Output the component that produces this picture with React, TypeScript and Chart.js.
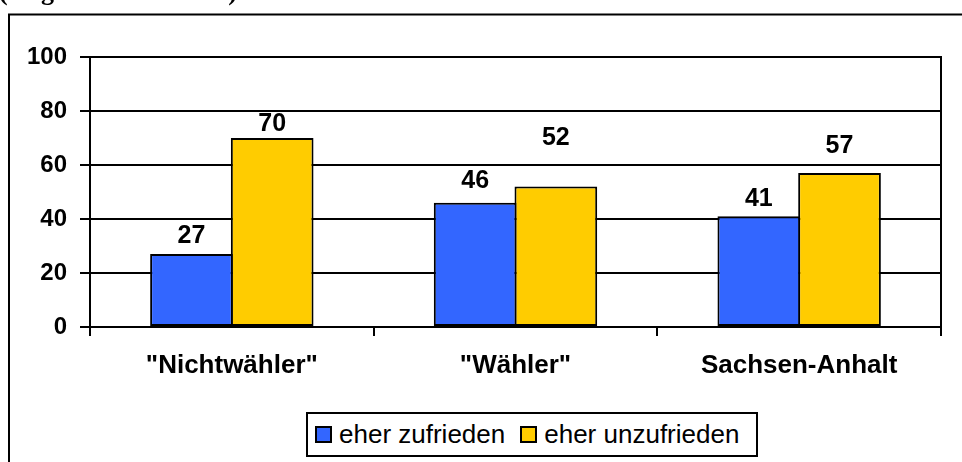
import React, { useEffect, useRef } from "react";
import { Chart, registerables } from "chart.js";

Chart.register(...registerables);

const categories = ['"Nichtwähler"', '"Wähler"', "Sachsen-Anhalt"];
const seriesNames = ["eher zufrieden", "eher unzufrieden"];
const zufrieden = [27, 46, 41];
const unzufrieden = [70, 52, 57];
const yTicks = [0, 20, 40, 60, 80, 100];
const titleText = "(Angaben in Prozent)";

const colors = ["#3366FF", "#FFCC00"];
// vertical distance (px) of each value label above its bar, per series
const labelOffsets = [
  [18, 22, 17],
  [14, 48, 27],
];

const SANS = '"Liberation Sans", Arial, sans-serif';

const framePlugin = {
  id: "frame",
  beforeDraw(chart: any) {
    const ctx = chart.ctx;
    ctx.save();
    ctx.strokeStyle = "#000";
    ctx.lineWidth = 2;
    ctx.strokeRect(9, 14.5, 1000, 1000);
    ctx.restore();
  },
  afterDraw(chart: any) {
    const { ctx, chartArea } = chart;
    ctx.save();
    ctx.strokeStyle = "#000";
    ctx.lineWidth = 2;
    ctx.beginPath();
    ctx.moveTo(chartArea.right, chartArea.top - 1);
    ctx.lineTo(chartArea.right, chartArea.bottom);
    ctx.stroke();
    ctx.restore();
  },
};

const valueLabelPlugin = {
  id: "valueLabels",
  afterDatasetsDraw(chart: any) {
    const ctx = chart.ctx;
    ctx.save();
    ctx.font = `bold 25px ${SANS}`;
    ctx.fillStyle = "#000";
    ctx.textAlign = "center";
    ctx.textBaseline = "middle";
    chart.data.datasets.forEach((ds: any, di: number) => {
      const meta = chart.getDatasetMeta(di);
      meta.data.forEach((el: any, i: number) => {
        ctx.fillText(String(ds.data[i]), el.x, el.y - labelOffsets[di][i]);
      });
    });
    ctx.restore();
  },
};

export default function App() {
  const canvasRef = useRef<HTMLCanvasElement | null>(null);

  useEffect(() => {
    if (!canvasRef.current) return;
    const chart = new Chart(canvasRef.current, {
      type: "bar",
      data: {
        labels: categories,
        datasets: [
          {
            label: seriesNames[0],
            data: zufrieden,
            backgroundColor: colors[0],
            borderColor: "#000",
            borderWidth: 2,
            borderSkipped: false,
            categoryPercentage: 0.569,
            barPercentage: 1.0248,
          },
          {
            label: seriesNames[1],
            data: unzufrieden,
            backgroundColor: colors[1],
            borderColor: "#000",
            borderWidth: 2,
            borderSkipped: false,
            categoryPercentage: 0.569,
            barPercentage: 1.0248,
          },
        ],
      },
      options: {
        animation: false,
        responsive: false,
        devicePixelRatio: 1,
        layout: { padding: { left: 0, top: 57, right: 21, bottom: 0 } },
        plugins: {
          legend: { display: false },
          tooltip: { enabled: false },
          title: { display: false },
        },
        scales: {
          x: {
            offset: true,
            grid: {
              offset: true,
              drawOnChartArea: false,
              drawTicks: true,
              tickLength: 9,
              color: "#000",
              lineWidth: 2,
            },
            border: { display: true, color: "#000", width: 2 },
            ticks: {
              color: "#000",
              font: { family: SANS, size: 26, weight: "bold" },
              padding: 14,
              maxRotation: 0,
              autoSkip: false,
            },
            afterFit: (s: any) => {
              s.height = 462 - 327;
            },
          },
          y: {
            min: 0,
            max: 100,
            grid: {
              color: "#000",
              lineWidth: 2,
              drawTicks: true,
              tickLength: 10,
            },
            border: { display: true, color: "#000", width: 2 },
            ticks: {
              color: "#000",
              font: { family: SANS, size: 24, weight: "bold" },
              padding: 13,
              stepSize: 20,
            },
            afterBuildTicks: (s: any) => {
              s.ticks = yTicks.map((v) => ({ value: v }));
            },
            afterFit: (s: any) => {
              s.width = 90;
            },
          },
        },
      },
      plugins: [framePlugin, valueLabelPlugin],
    } as any);
    return () => chart.destroy();
  }, []);

  return (
    <div
      style={{
        position: "fixed",
        left: 0,
        top: 0,
        width: 962,
        height: 462,
        overflow: "hidden",
        background: "#fff",
      }}
    >
      <canvas
        ref={canvasRef}
        width={962}
        height={462}
        style={{ position: "absolute", left: 0, top: 0, width: 962, height: 462 }}
      />
      <div
        style={{
          position: "absolute",
          left: -1,
          top: -21,
          font: 'bold 26px "Liberation Serif", "Times New Roman", serif',
          lineHeight: "26px",
          whiteSpace: "nowrap",
          color: "#000",
        }}
      >
        {titleText}
      </div>
      <div
        style={{
          position: "absolute",
          left: 306,
          top: 412,
          width: 452,
          height: 45,
          boxSizing: "border-box",
          border: "2px solid #000",
          background: "#fff",
          display: "flex",
          alignItems: "center",
          paddingLeft: 7,
          font: `26px ${SANS}`,
          color: "#000",
          whiteSpace: "nowrap",
        }}
      >
        {seriesNames.map((name, i) => (
          <React.Fragment key={name}>
            <span
              style={{
                display: "inline-block",
                width: 17,
                height: 17,
                boxSizing: "border-box",
                border: "2px solid #000",
                background: colors[i],
                marginRight: 7,
                marginLeft: i === 0 ? 0 : 15,
              }}
            />
            <span>{name}</span>
          </React.Fragment>
        ))}
      </div>
    </div>
  );
}
